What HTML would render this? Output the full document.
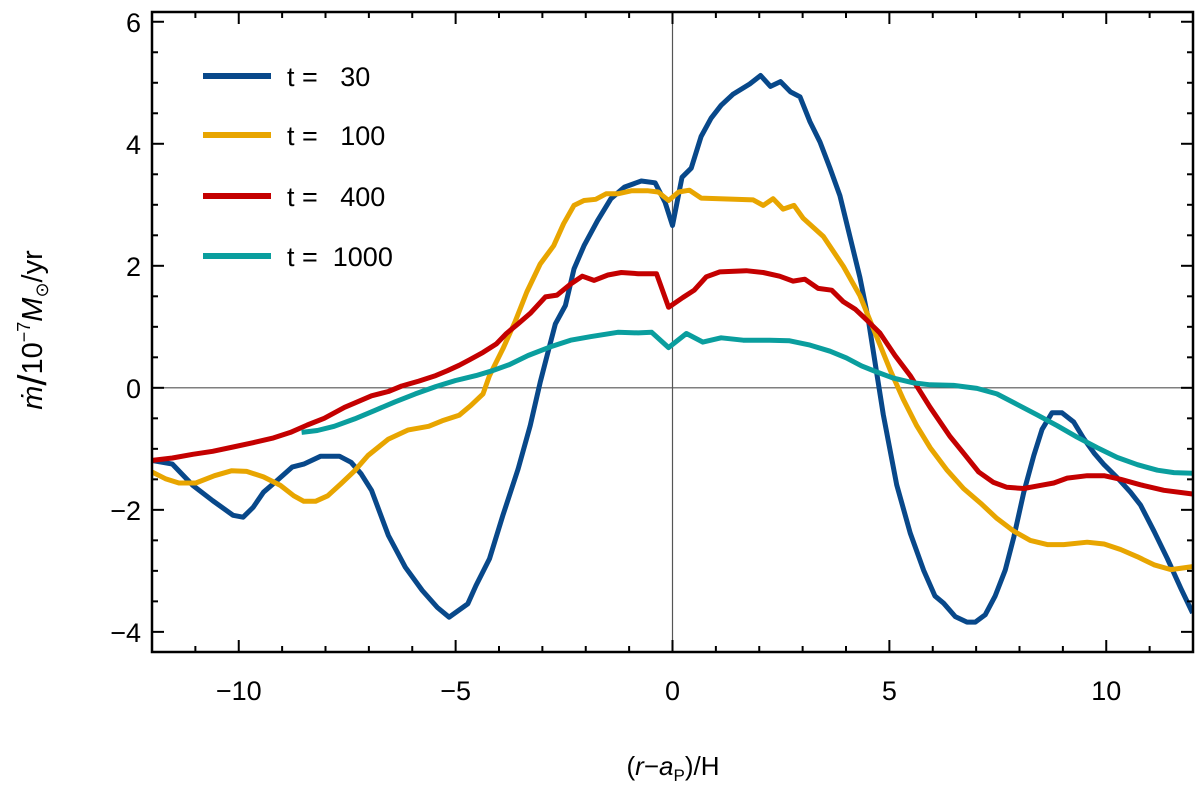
<!DOCTYPE html>
<html><head><meta charset="utf-8"><style>
body{margin:0;background:#fff}
svg{display:block;font-family:"Liberation Sans",sans-serif}
</style></head><body>
<svg id="chart" width="1200" height="788" viewBox="0 0 1200 788">
<defs><clipPath id="clip"><rect x="152" y="12" width="1041" height="640"/></clipPath></defs>
<g id="grid"></g>
<g id="series" clip-path="url(#clip)"></g>
<g id="axes"></g>
<g id="legend"></g>
</svg>
<script>
const xTicks=[-10,-5,0,5,10];
const xTickLabels=["\u221210","\u22125","0","5","10"];
const yTicks=[-4,-2,0,2,4,6];
const yTickLabels=["\u22124","\u22122","0","2","4","6"];
const seriesNames=["t =   30","t =   100","t =   400","t =  1000"];
const xBlue=[-12,-11.53,-11.06,-10.6,-10.13,-9.9,-9.67,-9.43,-9.12,-8.77,-8.5,-8.11,-7.68,-7.41,-7.18,-6.94,-6.55,-6.16,-5.77,-5.42,-5.15,-4.72,-4.53,-4.22,-3.91,-3.56,-3.28,-3.05,-2.89,-2.7,-2.47,-2.27,-2.04,-1.73,-1.42,-1.11,-0.72,-0.4,-0.17,0,0.22,0.43,0.66,0.89,1.12,1.39,1.78,2.03,2.26,2.49,2.72,2.94,3.17,3.4,3.63,3.86,4.09,4.32,4.51,4.67,4.86,5.17,5.48,5.79,6.05,6.25,6.52,6.79,6.98,7.21,7.44,7.67,7.87,8.1,8.33,8.52,8.75,8.98,9.25,9.48,9.72,9.95,10.25,10.56,10.79,11.1,11.41,11.72,11.99];
const yBlue=[-1.19,-1.25,-1.6,-1.85,-2.09,-2.12,-1.96,-1.71,-1.52,-1.3,-1.25,-1.12,-1.12,-1.22,-1.41,-1.68,-2.42,-2.94,-3.32,-3.6,-3.76,-3.54,-3.24,-2.8,-2.09,-1.33,-0.62,0.09,0.53,1.05,1.35,1.95,2.33,2.74,3.1,3.29,3.39,3.36,3.04,2.66,3.45,3.6,4.12,4.42,4.63,4.81,4.98,5.12,4.94,5.02,4.85,4.77,4.36,4.03,3.6,3.15,2.48,1.81,1.14,0.41,-0.44,-1.59,-2.38,-2.99,-3.41,-3.53,-3.75,-3.84,-3.84,-3.72,-3.41,-2.99,-2.44,-1.71,-1.11,-0.68,-0.41,-0.41,-0.56,-0.83,-1.07,-1.26,-1.47,-1.71,-1.92,-2.35,-2.8,-3.29,-3.69];
const xYellow=[-12,-11.69,-11.38,-10.99,-10.56,-10.17,-9.82,-9.43,-9.04,-8.73,-8.5,-8.23,-7.95,-7.64,-7.33,-7.02,-6.55,-6.09,-5.62,-5.31,-4.92,-4.65,-4.37,-4.22,-3.91,-3.63,-3.36,-3.05,-2.74,-2.51,-2.27,-2.04,-1.77,-1.53,-1.26,-0.95,-0.56,-0.33,-0.09,0.14,0.39,0.66,1.09,1.86,2.09,2.32,2.55,2.8,3.01,3.48,3.94,4.32,4.67,5.02,5.32,5.63,5.94,6.33,6.71,7.1,7.48,7.87,8.25,8.64,9.02,9.56,9.95,10.33,10.72,11.1,11.49,11.99];
const yYellow=[-1.38,-1.49,-1.56,-1.56,-1.44,-1.36,-1.37,-1.46,-1.6,-1.77,-1.86,-1.86,-1.77,-1.57,-1.36,-1.11,-0.84,-0.69,-0.63,-0.54,-0.45,-0.29,-0.1,0.2,0.64,1.08,1.57,2.03,2.33,2.69,2.99,3.07,3.09,3.18,3.18,3.23,3.23,3.21,3.07,3.21,3.24,3.11,3.1,3.08,2.99,3.1,2.93,2.99,2.78,2.48,1.99,1.51,0.9,0.29,-0.19,-0.62,-0.98,-1.35,-1.65,-1.89,-2.14,-2.35,-2.5,-2.57,-2.57,-2.53,-2.56,-2.65,-2.77,-2.9,-2.98,-2.93];
const xRed=[-12,-11.53,-11.06,-10.6,-10.13,-9.67,-9.2,-8.81,-8.42,-8.03,-7.56,-7.33,-6.94,-6.55,-6.24,-5.85,-5.46,-5.19,-4.92,-4.68,-4.37,-4.06,-3.83,-3.56,-3.28,-2.93,-2.66,-2.35,-2.08,-1.81,-1.49,-1.18,-0.79,-0.37,-0.09,0.24,0.5,0.78,1.09,1.7,2.09,2.47,2.78,3.05,3.36,3.67,3.94,4.21,4.48,4.78,5.13,5.48,5.94,6.4,6.71,7.06,7.4,7.71,8.1,8.48,8.79,9.1,9.56,9.95,10.33,10.79,11.33,11.99];
const yRed=[-1.19,-1.15,-1.09,-1.04,-0.97,-0.9,-0.82,-0.73,-0.61,-0.5,-0.32,-0.25,-0.13,-0.06,0.03,0.11,0.2,0.28,0.37,0.46,0.58,0.72,0.89,1.05,1.22,1.49,1.52,1.7,1.83,1.76,1.85,1.89,1.87,1.87,1.32,1.48,1.6,1.82,1.9,1.92,1.89,1.83,1.75,1.78,1.63,1.6,1.41,1.29,1.11,0.9,0.53,0.2,-0.32,-0.8,-1.07,-1.38,-1.55,-1.63,-1.65,-1.6,-1.56,-1.48,-1.44,-1.44,-1.5,-1.59,-1.68,-1.74];
const xTeal=[-8.55,-8.19,-7.8,-7.33,-6.86,-6.4,-5.93,-5.46,-5,-4.53,-4.15,-3.76,-3.33,-2.82,-2.35,-1.88,-1.26,-0.79,-0.48,-0.09,0.32,0.7,1.12,1.63,2.24,2.7,3.17,3.63,4.01,4.36,4.71,5.09,5.56,5.94,6.48,7.02,7.48,7.94,8.4,8.87,9.33,9.79,10.25,10.72,11.18,11.56,11.99];
const yTeal=[-0.73,-0.7,-0.63,-0.51,-0.37,-0.23,-0.1,0.02,0.12,0.2,0.28,0.38,0.53,0.67,0.78,0.84,0.91,0.9,0.91,0.66,0.89,0.75,0.82,0.78,0.78,0.77,0.7,0.6,0.49,0.36,0.26,0.16,0.08,0.05,0.04,-0.01,-0.1,-0.27,-0.44,-0.62,-0.81,-0.98,-1.14,-1.26,-1.35,-1.39,-1.4];

const L=152,R=1193,T=12,B=652,X0=-12,X1=12,Y0=-4.33,Y1=6.16;
const sx=v=>L+(v-X0)/(X1-X0)*(R-L);
const sy=v=>B-(v-Y0)/(Y1-Y0)*(B-T);
const NS="http://www.w3.org/2000/svg";
function mk(tag,attrs,parent,txt){const e=document.createElementNS(NS,tag);for(const k in attrs)e.setAttribute(k,attrs[k]);if(txt!==undefined)e.textContent=txt;parent.appendChild(e);return e;}
const grid=document.getElementById('grid'),ser=document.getElementById('series'),axes=document.getElementById('axes'),leg=document.getElementById('legend');

let z=mk('line',{x1:L,x2:R,y1:sy(0),y2:sy(0),stroke:'#555','stroke-width':1.2},grid);


z=mk('line',{x1:sx(0),x2:sx(0),y1:T,y2:B,stroke:'#555','stroke-width':1.2},grid);



const colors=['#08488a','#e8a500','#c40000','#0a9e9e'];
const xs=[xBlue,xYellow,xRed,xTeal],ys=[yBlue,yYellow,yRed,yTeal];
const snames=['series-t30','series-t100','series-t400','series-t1000'];
for(let s=0;s<4;s++){
  const d=xs[s].map((x,i)=>(i?'L':'M')+sx(x).toFixed(1)+','+sy(ys[s][i]).toFixed(1)).join('');
  const p=mk('path',{d:d,fill:'none',stroke:colors[s],'stroke-width':5,'stroke-linejoin':'round'},ser);
  
  
}

const fr=mk('rect',{x:L,y:T,width:R-L,height:B-T,fill:'none',stroke:'#000','stroke-width':2.5},axes);


for(let v=-12;v<=12;v++){
  const maj=v%5===0,len=maj?12:6;
  mk('line',{x1:sx(v),x2:sx(v),y1:B,y2:B-len,stroke:'#000','stroke-width':2},axes);
  mk('line',{x1:sx(v),x2:sx(v),y1:T,y2:T+len,stroke:'#000','stroke-width':2},axes);
}
for(let v=-4;v<=6;v+=0.5){
  const maj=Math.abs(v%2)<1e-6,len=maj?12:6;
  mk('line',{x1:L,x2:L+len,y1:sy(v),y2:sy(v),stroke:'#000','stroke-width':2},axes);
  mk('line',{x1:R,x2:R-len,y1:sy(v),y2:sy(v),stroke:'#000','stroke-width':2},axes);
}
xTicks.forEach((v,i)=>{
  const t=mk('text',{x:sx(v),y:700,'text-anchor':'middle','font-size':27},axes,xTickLabels[i]);
  
  
});
yTicks.forEach((v,i)=>{
  const t=mk('text',{x:141,y:sy(v)+10,'text-anchor':'end','font-size':27},axes,yTickLabels[i]);
  
  
});
const xl=mk('text',{x:673,y:775,'text-anchor':'middle','font-size':26},axes);


xl.innerHTML='(<tspan font-style="italic">r</tspan>\u2212<tspan font-style="italic">a</tspan><tspan font-size="17" dy="6">P</tspan><tspan dy="-6">)/H</tspan>';
const yl=mk('text',{x:0,y:0,'text-anchor':'middle','font-size':29,transform:'translate(42,330) rotate(-90)'},axes);


yl.innerHTML='<tspan font-style="italic">ṁ</tspan><tspan font-size="40" dy="4">/</tspan><tspan dy="-4">10</tspan><tspan font-size="18" dy="-12">\u22127</tspan><tspan dy="12" font-style="italic">M</tspan><tspan font-size="18" dy="6">\u2299</tspan><tspan dy="-6">/yr</tspan>';

const ly=[76,135,196,256];
for(let s=0;s<4;s++){
  const g=mk('g',{},leg);
  
  
  mk('line',{x1:203,x2:271,y1:ly[s],y2:ly[s],stroke:colors[s],'stroke-width':6},g);
  mk('text',{x:287,y:ly[s]+10,'font-size':27,style:'white-space:pre'},g,seriesNames[s]);
}
</script>
</body></html>
